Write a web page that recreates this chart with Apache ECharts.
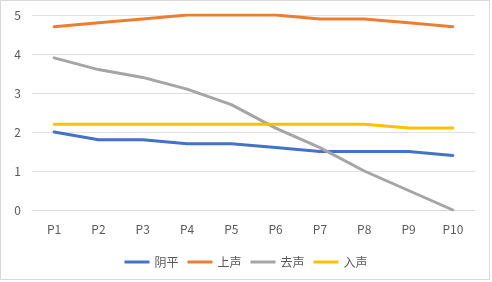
<!DOCTYPE html>
<html>
<head>
<meta charset="utf-8">
<script src="https://cdn.jsdelivr.net/npm/echarts@6/dist/echarts.min.js"></script>
<style>
  html, body { margin: 0; padding: 0; background: #fff; }
  #chart { width: 492px; height: 282px; }
  .frame { position: absolute; left: 0; top: 0; width: 488px; height: 278px; border: 1px solid #d9d9d9; pointer-events: none; }
</style>
</head>
<body>
<div id="chart"></div>
<div class="frame"></div>
<script>
var categories = ['P1', 'P2', 'P3', 'P4', 'P5', 'P6', 'P7', 'P8', 'P9', 'P10'];
var yinping = [2.0, 1.8, 1.8, 1.7, 1.7, 1.6, 1.5, 1.5, 1.5, 1.4];
var shangsheng = [4.7, 4.8, 4.9, 5.0, 5.0, 5.0, 4.9, 4.9, 4.8, 4.7];
var qusheng = [3.9, 3.6, 3.4, 3.1, 2.7, 2.1, 1.6, 1.0, 0.5, 0.0];
var rusheng = [2.2, 2.2, 2.2, 2.2, 2.2, 2.2, 2.2, 2.2, 2.1, 2.1];
var seriesNames = ['阴平', '上声', '去声', '入声'];

var chart = echarts.init(document.getElementById('chart'));

function line(name, data) {
  return {
    name: name,
    type: 'line',
    data: data,
    symbol: 'none',
    lineStyle: { width: 3, cap: 'round', join: 'round' }
  };
}

chart.setOption({
  backgroundColor: '#fff',
  animation: false,
  color: ['#4472c4', '#ed7d31', '#a5a5a5', '#ffc000'],
  textStyle: { fontFamily: '"Noto Sans CJK SC", "Noto Sans", sans-serif' },
  legend: {
    bottom: 9,
    left: 'center',
    icon: 'rect',
    itemWidth: 25,
    itemHeight: 3,
    itemGap: 9,
    data: seriesNames,
    textStyle: { fontSize: 12, color: '#595959' }
  },
  grid: {
    top: 15,
    left: 32,
    right: 17,
    bottom: 72
  },
  xAxis: {
    type: 'category',
    data: categories,
    axisLine: { show: true, lineStyle: { color: '#d9d9d9' } },
    axisTick: { show: false },
    axisLabel: { color: '#595959', fontSize: 12, margin: 13 }
  },
  yAxis: {
    type: 'value',
    min: 0,
    max: 5,
    interval: 1,
    axisLine: { show: false },
    axisTick: { show: false },
    axisLabel: { color: '#595959', fontSize: 12, margin: 11 },
    splitLine: { lineStyle: { color: '#e0e0e0' } }
  },
  series: [
    line(seriesNames[0], yinping),
    line(seriesNames[1], shangsheng),
    line(seriesNames[2], qusheng),
    line(seriesNames[3], rusheng)
  ]
});
</script>
</body>
</html>
